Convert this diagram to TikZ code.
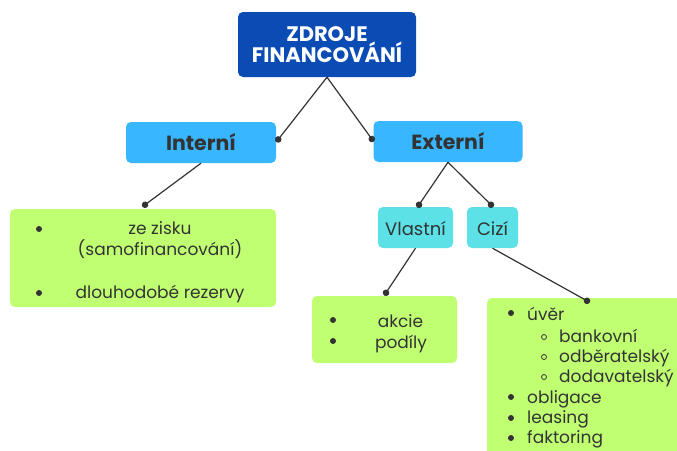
\documentclass[tikz,border=0pt]{standalone}
\usepackage{fontspec}
\setmainfont{Poppins}
\usetikzlibrary{arrows.meta}
\definecolor{topblue}{HTML}{0B4CB4}
\definecolor{midblue}{HTML}{38B6FF}
\definecolor{cyanbox}{HTML}{5CE1E6}
\definecolor{greenbox}{HTML}{C1FF72}
\definecolor{txt}{HTML}{333333}
\tikzset{
  box/.style={rounded corners=5pt, inner sep=0pt, draw=none},
  conn/.style={draw=txt, line width=1.2pt, -{Circle[length=6.5pt,width=6.5pt]}, shorten >=-3.2pt},
  itm/.style={text=txt, font=\fontsize{17}{20}\selectfont, inner sep=0pt, anchor=base west},
  ctr/.style={text=txt, font=\fontsize{17}{20}\selectfont, inner sep=0pt, anchor=base},
  bul/.style={circle, fill=txt, inner sep=0pt, minimum size=6pt},
  obul/.style={circle, draw=txt, line width=0.8pt, inner sep=0pt, minimum size=5pt},
  lbl/.style={box, text=txt, text height=15pt, text depth=0pt}
}
\begin{document}
\begin{tikzpicture}[x=1pt,y=-1pt]
\useasboundingbox (0,0) rectangle (677,450);
% boxes
\node[box, fill=topblue, minimum width=178pt, minimum height=65pt, text=white, align=center,
  font=\bfseries\fontsize{21}{21}\selectfont] (top) at (327,44.5) {ZDROJE\\FINANCOVÁNÍ};
\node[lbl, fill=midblue, minimum width=150pt, minimum height=41pt,
  font=\bfseries\fontsize{20.5}{24}\selectfont] (interni) at (201,142.5) {Interní};
\node[lbl, fill=midblue, minimum width=149pt, minimum height=41pt,
  font=\bfseries\fontsize{20.5}{24}\selectfont] (externi) at (448,141.5) {Externí};
\node[box, fill=greenbox, minimum width=266pt, minimum height=98pt] (lbox) at (143,258) {};
\node[lbl, fill=cyanbox, minimum width=75pt, minimum height=41pt,
  font=\fontsize{18}{21}\selectfont] (vlastni) at (415.5,227.5) {Vlastní};
\node[lbl, fill=cyanbox, minimum width=51pt, minimum height=41pt,
  font=\fontsize{18}{21}\selectfont] (cizi) at (492.5,227.5) {Cizí};
\node[box, fill=greenbox, minimum width=145pt, minimum height=67pt] (abox) at (384.5,329.5) {};
\node[box, fill=greenbox, minimum width=200pt, minimum height=162pt] (rbox) at (587,379) {};
% connectors
\draw[conn] (top.south) -- ([xshift=2pt,yshift=3pt]interni.east);
\draw[conn] (top.south) -- ([xshift=-1.5pt,yshift=2.5pt]externi.west);
\draw[conn] (interni.south) -- ([xshift=2pt,yshift=4pt]lbox.north);
\draw[conn] (externi.south) -- ([xshift=3.5pt,yshift=2pt]vlastni.north);
\draw[conn] (externi.south) -- ([xshift=-1.5pt,yshift=2pt]cizi.north);
\draw[conn] (vlastni.south) -- ([xshift=1.5pt,yshift=3pt]abox.north);
\draw[conn] (cizi.south) -- ([yshift=-3pt]rbox.north);
% left box text
\node[bul] (lb1) at (39,229) {};
\node[bul] (lb2) at (39,293) {};
\node[ctr] (l1) at (160,234) {ze zisku};
\node[ctr] (l2) at (160,255) {(samofinancování)};
\node[ctr] (l3) at (160,298) {dlouhodobé rezervy};
% middle box text
\node[bul] (ab1) at (333,320) {};
\node[bul] (ab2) at (333,341) {};
\node[ctr] (a1) at (400.5,327) {akcie};
\node[ctr] (a2) at (401,348) {podíly};
% right box text
\node[bul] (rb1) at (511,313) {};
\node[itm] (r1) at (527,320) {úvěr};
\node[obul] (rs1) at (544,337) {};
\node[itm] (r2) at (559,342) {bankovní};
\node[obul] (rs2) at (544,357) {};
\node[itm] (r3) at (559,362) {odběratelský};
\node[obul] (rs3) at (544,377) {};
\node[itm] (r4) at (559,382) {dodavatelský};
\node[bul] (rb2) at (511,397) {};
\node[itm] (r5) at (527,403) {obligace};
\node[bul] (rb3) at (511,418) {};
\node[itm] (r6) at (527,423) {leasing};
\node[bul] (rb4) at (511,438) {};
\node[itm] (r7) at (527,443) {faktoring};
\end{tikzpicture}
\end{document}
